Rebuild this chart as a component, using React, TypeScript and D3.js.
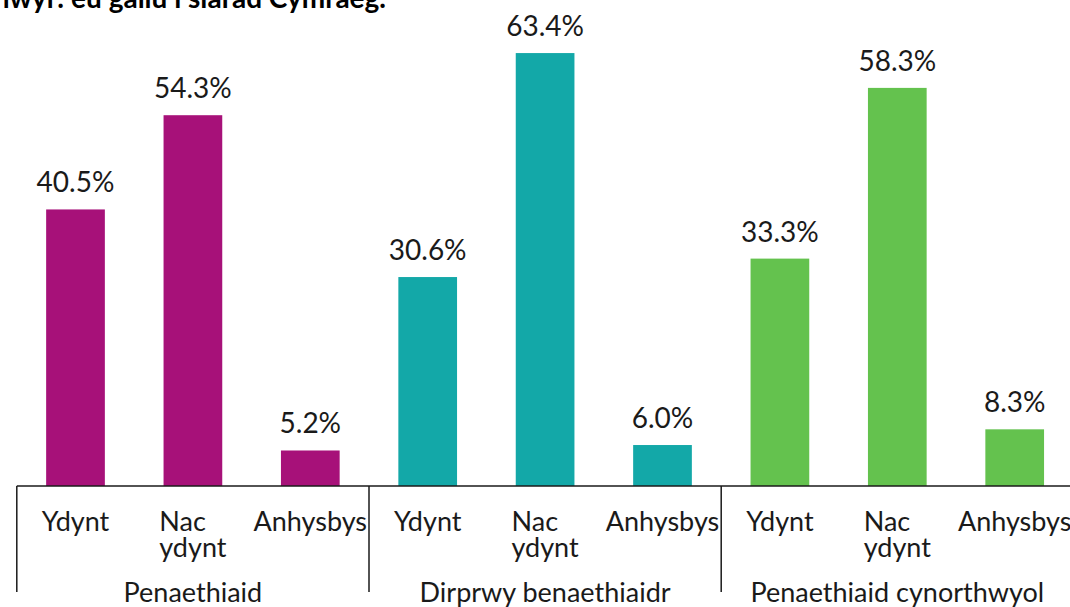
import React, { useEffect, useRef } from 'react'
import * as d3 from 'd3'

const groups = ["Penaethiaid", "Dirprwy benaethiaidr", "Penaethiaid cynorthwyol"]
const answers = ["Ydynt", "Nac ydynt", "Anhysbys"]
const penaethiaid = [40.5, 54.3, 5.2]
const dirprwy = [30.6, 63.4, 6.0]
const cynorthwyol = [33.3, 58.3, 8.3]
const colors = ["#a71179", "#13a8a8", "#64c24e"]
const title = "Uwch arweinwyr: eu gallu i siarad Cymraeg."

const W = 1070
const H = 607
const font = "Lato, 'Open Sans', sans-serif"

export default function App() {
    const svgNode = useRef<SVGSVGElement>(null)

    useEffect(() => {
        const svg = d3.select(svgNode.current)
        svg.selectAll("*").remove()

        const series = [penaethiaid, dirprwy, cynorthwyol]
        const rows = groups.flatMap((g, gi) =>
            answers.map((a, ai) => ({ key: `${gi}-${ai}`, group: gi, answer: a, value: series[gi][ai] })))

        const x = d3.scaleBand()
            .domain(rows.map(d => d.key))
            .range([16.8, 1073.4])
            .paddingInner(0.5)
            .paddingOuter(0.25)

        const y = d3.scaleLinear()
            .domain([0, 70])
            .range([486, 8])

        // title, mostly cut off by the top edge
        svg.append("text")
            .attr("x", 386)
            .attr("y", 8)
            .attr("text-anchor", "end")
            .attr("font-weight", "bold")
            .style("font-size", "28px")
            .attr("fill", "#000")
            .text(title)

        svg.selectAll(".bar")
            .data(rows)
            .join("rect")
            .attr("class", "bar")
            .attr("x", d => x(d.key)!)
            .attr("width", x.bandwidth())
            .attr("y", d => y(d.value))
            .attr("height", d => y(0) - y(d.value))
            .attr("fill", d => colors[d.group])

        svg.selectAll(".val")
            .data(rows)
            .join("text")
            .attr("class", "val")
            .attr("x", d => x(d.key)! + x.bandwidth() / 2)
            .attr("y", d => y(d.value) - 17)
            .attr("text-anchor", "middle")
            .style("font-size", "28px")
            .attr("fill", "#1a1a1a")
            .text(d => d.value.toFixed(1) + "%")

        // axis line + group separators
        const step = x.step()
        const start = x.range()[0]
        const end = x.range()[1]
        svg.append("line")
            .attr("x1", start).attr("x2", end)
            .attr("y1", y(0)).attr("y2", y(0))
            .attr("stroke", "#1a1a1a").attr("stroke-width", 1.5)
        d3.range(groups.length + 1).forEach(i => {
            const gx = start + i * step * 3
            svg.append("line")
                .attr("x1", gx).attr("x2", gx)
                .attr("y1", y(0)).attr("y2", 592)
                .attr("stroke", "#1a1a1a").attr("stroke-width", 1.5)
        })

        // category labels, wrapped lines left aligned inside a centred block
        rows.forEach(d => {
            const cx = x(d.key)! + x.bandwidth() / 2
            const lines = d.answer === "Nac ydynt" ? d.answer.split(" ") : [d.answer]
            const t = svg.append("text")
                .style("font-size", "27px")
                .attr("fill", "#1a1a1a")
            lines.forEach((l, i) => {
                t.append("tspan").attr("y", 531 + i * 26).text(l)
            })
            let widest = 0
            t.selectAll<SVGTSpanElement, unknown>("tspan").each(function () {
                widest = Math.max(widest, this.getComputedTextLength())
            })
            t.selectAll("tspan").attr("x", lines.length > 1 ? cx - widest / 2 : cx)
            if (lines.length === 1) t.attr("text-anchor", "middle")
        })

        svg.selectAll(".grp")
            .data(groups)
            .join("text")
            .attr("class", "grp")
            .attr("x", (d, i) => start + (i + 0.5) * step * 3)
            .attr("y", 602)
            .attr("text-anchor", "middle")
            .style("font-size", "27px")
            .attr("fill", "#1a1a1a")
            .text(d => d)
    }, [])

    return (
        <svg ref={svgNode} width={W} height={H}
            style={{ position: "absolute", top: 0, left: 0, background: "#fff", fontFamily: font }} />
    )
}
